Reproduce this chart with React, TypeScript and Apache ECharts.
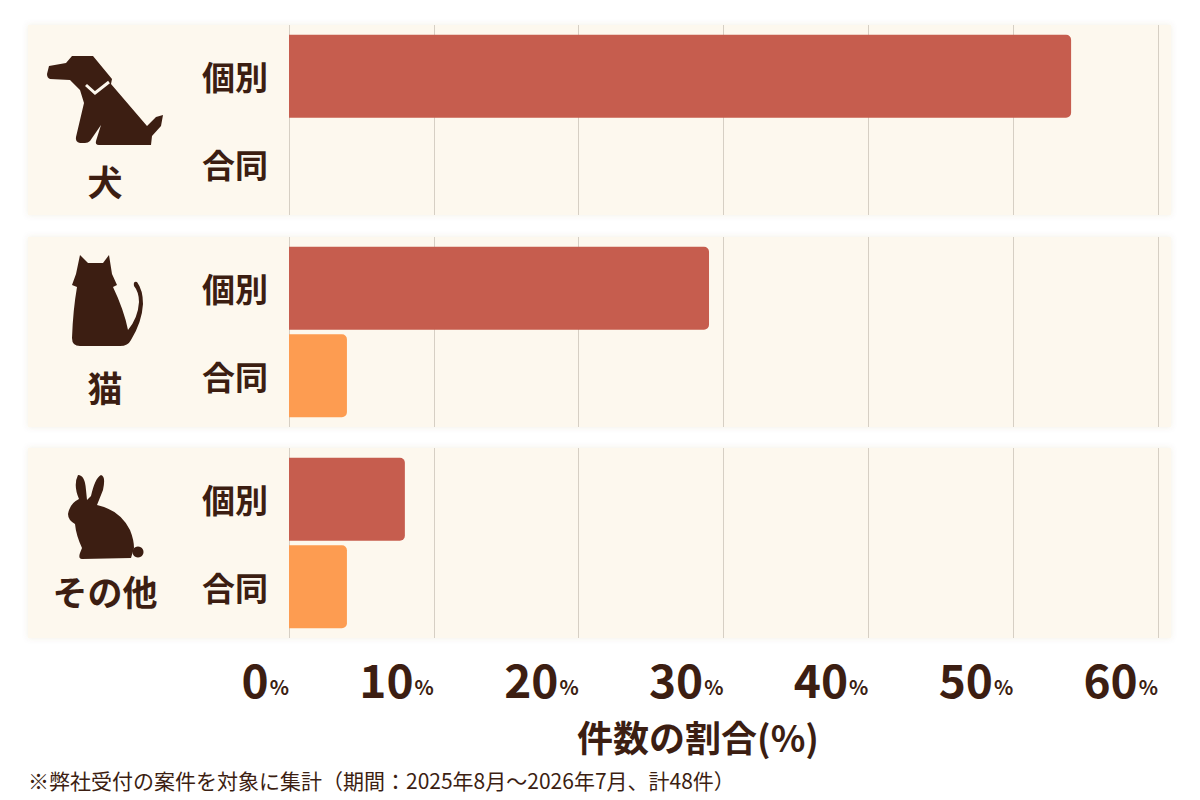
import { useEffect, useRef } from "react";
import * as echarts from "echarts";

// 件数の割合(%)
const animals = ["犬", "猫", "その他"];
const kinds = ["個別", "合同"];
const kobetsu = [54, 29, 8];
const goudou = [0, 4, 4];
const xMin = 0;
const xMax = 60;
const xStep = 10;

const FONT = '"Noto Sans CJK JP", "Noto Sans", sans-serif';
const BROWN = "#3c1e12";
const RED = "#c65d4e";
const ORANGE = "#fd9c51";
const PANEL = "#fdf8ee";

const panelTops = [25, 237, 448];
const panelH = 190;

// シルエット
const dogPath =
  "M49 66 L66 63 L72 56 L93 56 L112 79 L111 84 L147 126 L156 117 L163 115 L161 126 L152 136 L151 145 L99 145 Q95 145 96 141 L101 125 L90 141 Q88 143 85 143 L80 143 Q75 142 76 137 L84 103 L80 90 L70 80 L50 79 Q47 78 47 74 Z";
const catPath =
  "M80 255 L88 263 L103 263 L109 255 L112 274 L117 285 L113 287 Q124 310 128 330 Q138 318 139 302 Q139 292 134 286 Q133 281 137 282 Q143 290 143 304 Q142 322 131 340 Q128 346 120 346 L80 346 Q72 346 72 338 Q73 310 77 287 L72 285 L76 274 Z";
const rabbitPath =
  "M78 475 Q85 475 86 490 L87 500 L91 496 Q95 478 101 475 Q106 476 103 490 L97 505 Q120 510 130 530 Q134 540 134 548 L131 558 L82 559 Q78 559 80 553 L82 548 Q76 535 75 524 Q68 520 68 514 Q70 503 79 499 Q73 485 78 475 Z";

echarts.graphic.registerShape("dogIcon", echarts.graphic.extendPath(dogPath, {}));
echarts.graphic.registerShape("catIcon", echarts.graphic.extendPath(catPath, {}));
echarts.graphic.registerShape("rabbitIcon", echarts.graphic.extendPath(rabbitPath, {}));

const App = () => {
  const chartRef = useRef<HTMLDivElement>(null);

  useEffect(() => {
    document.body.style.margin = "0";
    if (!chartRef.current) return;
    const chart = echarts.init(chartRef.current, null, { renderer: "svg" });

    const grids: any[] = [];
    const xAxes: any[] = [];
    const yAxes: any[] = [];
    const series: any[] = [];

    // 背景グリッド（目盛り線用）
    panelTops.forEach((top, i) => {
      grids.push({ left: 289, right: 42, top, height: panelH });
      xAxes.push({
        gridIndex: i,
        type: "value",
        min: xMin,
        max: xMax,
        interval: xStep,
        axisLine: { show: false },
        axisTick: { show: false },
        splitLine: { show: true, lineStyle: { color: "#d6cfc4", width: 1 } },
        axisLabel: {
          show: i === panelTops.length - 1,
          align: "right",
          margin: 13,
          formatter: (v: number) => `{n|${v}}{p|%}`,
          rich: {
            n: { fontSize: 46, fontWeight: "bold", color: BROWN, fontFamily: FONT, verticalAlign: "bottom", lineHeight: 50 },
            p: { fontSize: 20, fontWeight: "bold", color: BROWN, fontFamily: FONT, verticalAlign: "bottom", lineHeight: 50, padding: [0, 0, 5, 1] },
          },
        },
      });
      yAxes.push({ gridIndex: i, type: "category", data: [""], show: false });
    });

    // 棒グラフ用グリッド
    panelTops.forEach((top, i) => {
      const g = panelTops.length + i;
      grids.push({ left: 289, right: 42, top: top + 7.5, height: 175 });
      xAxes.push({ gridIndex: g, type: "value", min: xMin, max: xMax, interval: xStep, show: false });
      yAxes.push({
        gridIndex: g,
        type: "category",
        data: kinds,
        inverse: true,
        axisLine: { show: false },
        axisTick: { show: false },
        axisLabel: { fontSize: 33, fontWeight: "bold", color: BROWN, fontFamily: FONT, margin: 21 },
      });
      series.push({
        name: animals[i],
        type: "bar",
        xAxisIndex: g,
        yAxisIndex: g,
        barWidth: 83,
        itemStyle: { borderRadius: [0, 5, 5, 0] },
        data: [
          { value: kobetsu[i], itemStyle: { color: RED } },
          { value: goudou[i], itemStyle: { color: ORANGE } },
        ],
      });
    });

    const iconTypes = ["dogIcon", "catIcon", "rabbitIcon"];
    const nameY = [180, 386, 590];

    const graphics: any[] = [];
    panelTops.forEach((top) => {
      graphics.push({
        type: "rect",
        z: -10,
        shape: { x: 28, y: top, width: 1143, height: panelH },
        style: { fill: PANEL, shadowBlur: 6, shadowColor: "rgba(120,90,40,0.10)" },
      });
    });
    iconTypes.forEach((t, i) => {
      graphics.push({ type: t, x: 0, y: 0, style: { fill: BROWN } });
      graphics.push({
        type: "text",
        x: 105,
        y: nameY[i],
        style: {
          text: animals[i],
          fontSize: 35,
          fontWeight: "bold",
          fontFamily: FONT,
          fill: BROWN,
          align: "center",
          verticalAlign: "middle",
        },
      });
    });
    graphics.push({
      type: "circle",
      shape: { cx: 138, cy: 552, r: 5.5 },
      style: { fill: BROWN },
    });
    graphics.push({
      type: "polyline",
      shape: { points: [[86, 85], [95, 93], [109, 82]] },
      style: { stroke: PANEL, lineWidth: 3, fill: null },
    });
    graphics.push({
      type: "text",
      x: 698,
      y: 736,
      style: {
        text: "件数の割合(%)",
        fontSize: 36,
        fontWeight: "bold",
        fontFamily: FONT,
        fill: BROWN,
        align: "center",
        verticalAlign: "middle",
      },
    });
    graphics.push({
      type: "text",
      x: 28,
      y: 780,
      style: {
        text: "※弊社受付の案件を対象に集計（期間：2025年8月～2026年7月、計48件）",
        fontSize: 21,
        fontFamily: FONT,
        fill: BROWN,
        align: "left",
        verticalAlign: "middle",
      },
    });

    chart.setOption({
      animation: false,
      backgroundColor: "#ffffff",
      textStyle: { fontFamily: FONT },
      grid: grids,
      xAxis: xAxes,
      yAxis: yAxes,
      series,
      graphic: graphics,
    });

    return () => {
      chart.dispose();
    };
  }, []);

  return <div ref={chartRef} style={{ width: "1200px", height: "800px" }} />;
};

export default App;
